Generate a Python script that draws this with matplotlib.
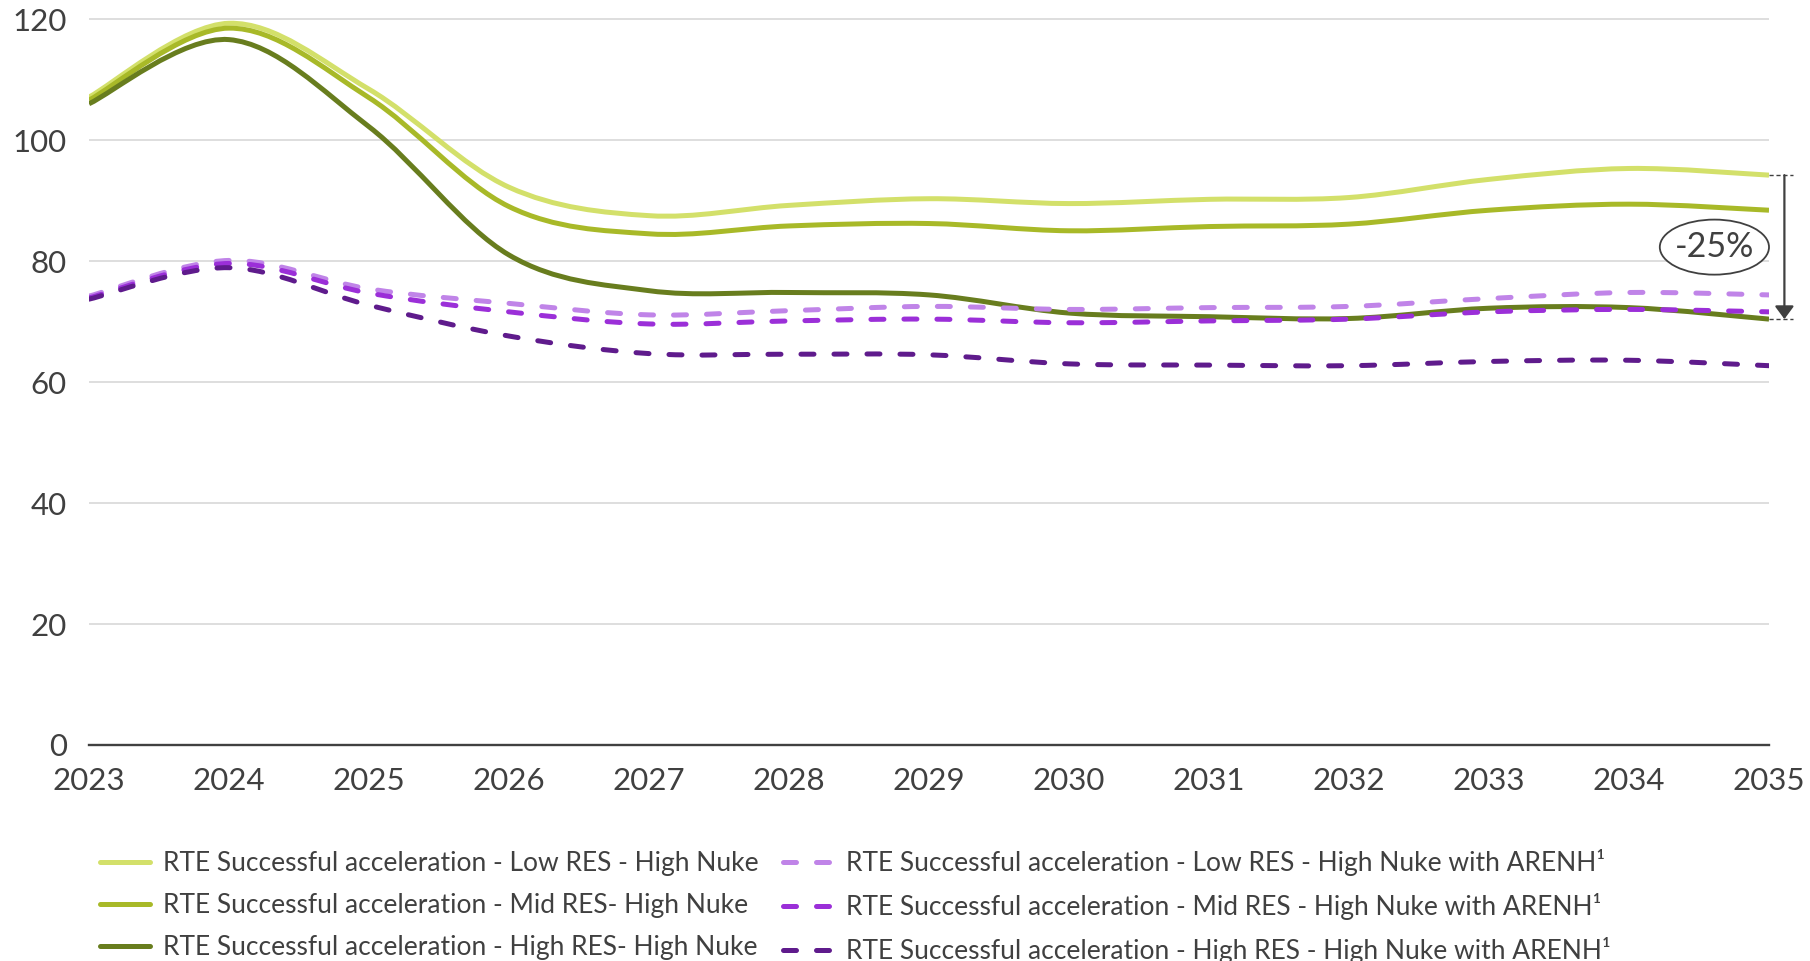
import numpy as np
import matplotlib
matplotlib.use("Agg")
import matplotlib.pyplot as plt
from matplotlib.path import Path
from matplotlib.patches import PathPatch, Ellipse
from matplotlib.lines import Line2D

plt.rcParams['font.family'] = ['Lato', 'DejaVu Sans']

# ---------------- data ----------------
years = list(range(2023, 2036))
low_res = [107.1, 119.3, 108.4, 92.2, 87.5, 89.2, 90.3, 89.5, 90.2, 90.5, 93.5, 95.3, 94.2]
mid_res = [106.6, 118.5, 107.0, 89.0, 84.5, 85.8, 86.2, 85.0, 85.7, 86.1, 88.4, 89.4, 88.4]
high_res = [106.0, 116.6, 102.2, 81.0, 75.1, 74.8, 74.4, 71.4, 70.8, 70.5, 72.2, 72.3, 70.4]
low_arenh = [74.2, 80.1, 75.4, 73.0, 71.1, 71.8, 72.5, 72.0, 72.3, 72.5, 73.8, 74.8, 74.4]
mid_arenh = [73.9, 79.6, 74.7, 71.6, 69.6, 70.1, 70.4, 69.8, 70.1, 70.4, 71.6, 72.0, 71.6]
high_arenh = [73.7, 78.9, 72.7, 67.6, 64.7, 64.6, 64.5, 63.0, 62.8, 62.7, 63.4, 63.6, 62.7]

labels = [
    "RTE Successful acceleration - Low RES - High Nuke",
    "RTE Successful acceleration - Mid RES- High Nuke",
    "RTE Successful acceleration - High RES- High Nuke",
    "RTE Successful acceleration - Low RES - High Nuke with ARENH\u00b9",
    "RTE Successful acceleration - Mid RES - High Nuke with ARENH\u00b9",
    "RTE Successful acceleration - High RES - High Nuke with ARENH\u00b9",
]
yticks = [0, 20, 40, 60, 80, 100, 120]
change_label = "-25%"

colors = ["#D3E06A", "#A8B928", "#687D1E", "#C084E8", "#9B2FD8", "#5F1B8C"]
series = [low_res, mid_res, high_res, low_arenh, mid_arenh, high_arenh]
dashed = [False, False, False, True, True, True]

TXT = "#404040"
DASH = (0, (2.6, 4.0))


def smooth_path(x, y):
    pts = np.column_stack([np.asarray(x, float), np.asarray(y, float)])
    n = len(pts)
    verts = [pts[0]]
    codes = [Path.MOVETO]
    for i in range(n - 1):
        p0 = pts[i - 1] if i > 0 else pts[i]
        p1 = pts[i]
        p2 = pts[i + 1]
        p3 = pts[i + 2] if i + 2 < n else pts[i + 1]
        c1 = p1 + (p2 - p0) / 6.0
        c2 = p2 - (p3 - p1) / 6.0
        verts += [c1, c2, p2]
        codes += [Path.CURVE4] * 3
    return Path(verts, codes)


W, H = 1810, 961
fig = plt.figure(figsize=(W / 100, H / 100), dpi=100)
left, right, bottom, top = 89, 1769, 745, 13
ax = fig.add_axes([left / W, 1 - bottom / H, (right - left) / W, (bottom - top) / H])
ax.set_xlim(2023, 2035)
ax.set_ylim(0, 121)

handles = []
for vals, c, d, lab in zip(series, colors, dashed, labels):
    ls = DASH if d else "-"
    patch = PathPatch(smooth_path(years, vals), fill=False, edgecolor=c, lw=3.6,
                      linestyle=ls, capstyle="round" if d else "butt", joinstyle="round",
                      zorder=3)
    ax.add_patch(patch)
    handles.append(Line2D([], [], color=c, lw=3.6, linestyle=ls,
                          dash_capstyle="round", solid_capstyle="round", label=lab))

# axes styling
for s in ["top", "right", "left"]:
    ax.spines[s].set_visible(False)
ax.spines["bottom"].set_color(TXT)
ax.spines["bottom"].set_linewidth(1.7)
ax.spines["bottom"].set_zorder(4)
ax.set_xticks(years)
ax.set_yticks(yticks)
ax.grid(axis="y", color="#D4D4D4", lw=1.1, zorder=1)
ax.set_axisbelow(True)
ax.tick_params(axis="both", length=0, labelsize=22.5, colors=TXT)
ax.tick_params(axis="x", pad=15.5)
ax.tick_params(axis="y", pad=16)

# annotation: arrow between the Low RES and High RES end values
xa = 2035.11
ax.annotate("", xy=(xa, high_res[-1]), xytext=(xa, low_res[-1]),
            arrowprops=dict(arrowstyle="-|>,head_length=0.65,head_width=0.48",
                            color=TXT, lw=1.6, shrinkA=0, shrinkB=0, mutation_scale=12),
            annotation_clip=False)
for v in (low_res[-1], high_res[-1]):
    ax.plot([2035.0, 2035.17], [v, v], color=TXT, lw=1.0, ls=(0, (3, 2)), clip_on=False)

ell = Ellipse((2034.61, 82.3), 0.78, 9.1, facecolor="white", edgecolor=TXT, lw=1.3,
              zorder=6, clip_on=False)
ax.add_patch(ell)
ax.text(2034.61, 82.3, change_label, ha="center", va="center", fontsize=24.5,
        color=TXT, zorder=7)

leg = fig.legend(handles=handles, ncol=2, loc="center left",
                 bbox_to_anchor=(100 / W, 1 - 906.5 / H), frameon=False,
                 fontsize=19, handlelength=1.9, handletextpad=0.5,
                 columnspacing=0.9, labelspacing=0.64, borderpad=0, borderaxespad=0)
for t in leg.get_texts():
    t.set_color(TXT)

fig.savefig("out.png", dpi=100)
